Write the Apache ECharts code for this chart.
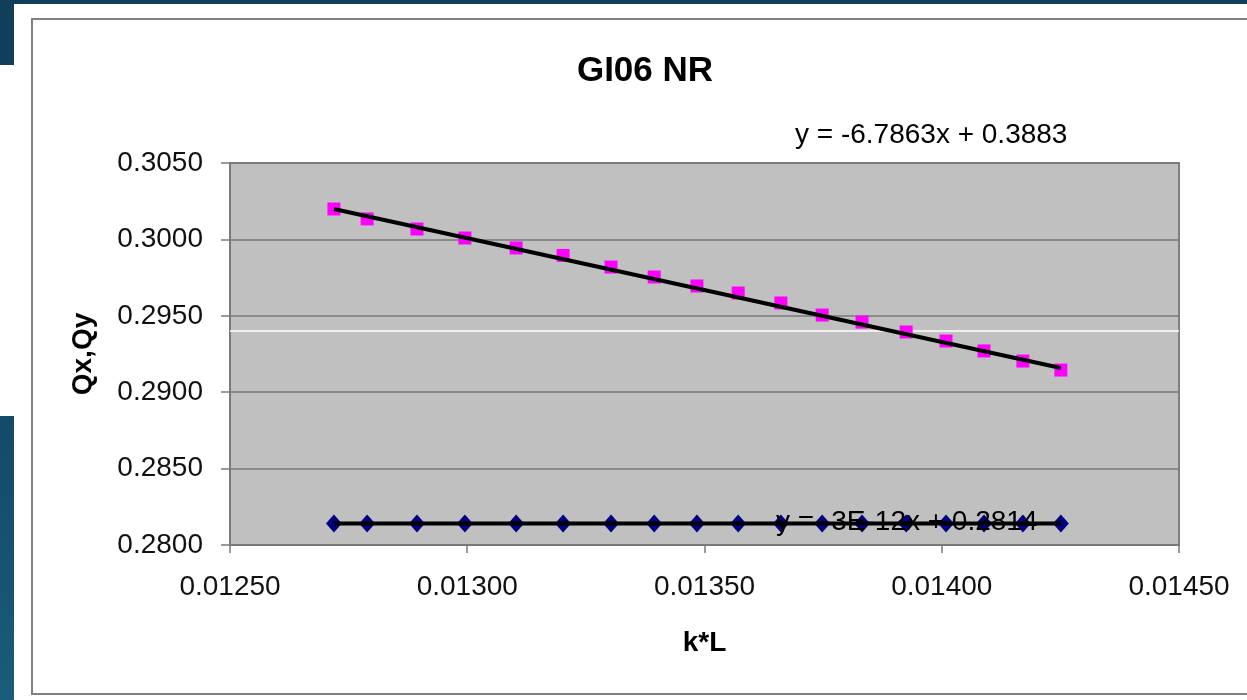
<!DOCTYPE html>
<html><head><meta charset="utf-8">
<script src="https://cdn.jsdelivr.net/npm/echarts@6/dist/echarts.min.js"></script>
<style>html,body{margin:0;padding:0;background:#fff;overflow:hidden}#c{width:1247px;height:700px}</style>
</head><body><div id="c"></div>
<script>
// k*L values (x)
const kL = [0.012719, 0.012789, 0.012894, 0.012995, 0.013103, 0.013202, 0.013303, 0.013394, 0.013484,
            0.013571, 0.013661, 0.013748, 0.013832, 0.013925, 0.014009, 0.014089, 0.014171, 0.014251];
// Qx values (magenta squares)
const qx = [0.30199, 0.30134, 0.30068, 0.30009, 0.29944, 0.29895, 0.29819, 0.29754, 0.29695,
            0.29649, 0.29584, 0.29505, 0.29459, 0.29394, 0.29335, 0.29270, 0.29204, 0.29145];
// Qy values (navy diamonds)
const qy = [0.2814, 0.2814, 0.2814, 0.2814, 0.2814, 0.2814, 0.2814, 0.2814, 0.2814,
            0.2814, 0.2814, 0.2814, 0.2814, 0.2814, 0.2814, 0.2814, 0.2814, 0.2814];
// trendline coefficients [slope, intercept]
const fitQx = [-6.7863, 0.3883];
const fitQy = [3e-12, 0.2814];
const eqQx = 'y = -6.7863x + 0.3883';
const eqQy = 'y = -3E-12x + 0.2814';
const titleText = 'GI06 NR';
const xName = 'k*L';
const yName = 'Qx,Qy';
const xTicks = [0.0125, 0.0130, 0.0135, 0.0140, 0.0145];
const yTicks = [0.2800, 0.2850, 0.2900, 0.2950, 0.3000, 0.3050];
const whiteLineY = [0.2940];

const FONT = 'Liberation Sans';
const pts = (xs, ys) => xs.map((x, i) => [x, ys[i]]);
const trend = (xs, f) => [[xs[0], f[0] * xs[0] + f[1]], [xs[xs.length - 1], f[0] * xs[xs.length - 1] + f[1]]];

const chart = echarts.init(document.getElementById('c'), null, {renderer: 'canvas'});
chart.setOption({
  animation: false,
  backgroundColor: '#ffffff',
  title: {
    text: titleText, left: 640, top: 49, textAlign: 'center',
    textStyle: {fontFamily: FONT, fontWeight: 'bold', fontSize: 35, color: '#000'}
  },
  grid: {
    left: 230, top: 163, right: 68, bottom: 155, show: true,
    backgroundColor: '#c0c0c0', borderColor: '#808080', borderWidth: 2
  },
  xAxis: {
    type: 'value', min: xTicks[0], max: xTicks[xTicks.length - 1], interval: 0.0005,
    name: xName, nameLocation: 'middle', nameGap: 84,
    nameTextStyle: {fontFamily: FONT, fontWeight: 'bold', fontSize: 28, color: '#000'},
    axisLine: {show: true, lineStyle: {color: '#7a7a7a', width: 2}},
    axisTick: {show: true, length: 8, lineStyle: {color: '#7a7a7a', width: 1.5}},
    axisLabel: {margin: 28, fontFamily: FONT, fontSize: 28, color: '#111',
                formatter: v => v.toFixed(5)},
    splitLine: {show: false}
  },
  yAxis: {
    type: 'value', min: yTicks[0], max: yTicks[yTicks.length - 1], interval: 0.005,
    name: yName, nameLocation: 'middle', nameGap: 133, nameRotate: 90,
    nameTextStyle: {fontFamily: FONT, fontWeight: 'bold', fontSize: 28, color: '#000'},
    axisLine: {show: true, lineStyle: {color: '#7a7a7a', width: 2}},
    axisTick: {show: true, length: 9, lineStyle: {color: '#7a7a7a', width: 1.5}},
    axisLabel: {margin: 27, fontFamily: FONT, fontSize: 28, color: '#111',
                formatter: v => v.toFixed(4)},
    splitLine: {show: true, lineStyle: {color: '#7a7a7a', width: 1.5}}
  },
  graphic: [
    {type: 'rect', z: -10, shape: {x: 0, y: 0, width: 1247, height: 4}, style: {fill: '#113f5a'}},
    {type: 'rect', z: -10, shape: {x: 0, y: 0, width: 14, height: 65}, style: {fill: '#113f5a'}},
    {type: 'rect', z: -10, shape: {x: 0, y: 416, width: 14, height: 284},
     style: {fill: new echarts.graphic.LinearGradient(0, 0, 0, 1, [{offset: 0, color: '#144a68'}, {offset: 1, color: '#1a5c7b'}])}},
    {type: 'rect', z: -5, shape: {x: 32, y: 19, width: 1240, height: 675},
     style: {fill: null, stroke: '#808080', lineWidth: 2}},
    {type: 'text', z: 100, x: 795, y: 135,
     style: {text: eqQx, font: '28px "Liberation Sans"', fill: '#000', textVerticalAlign: 'middle'}},
    {type: 'text', z: 100, x: 776, y: 522,
     style: {text: eqQy, font: '28px "Liberation Sans"', fill: '#000', textVerticalAlign: 'middle'}}
  ],
  series: [
    {
      name: 'Qx', type: 'scatter', data: pts(kL, qx), symbol: 'rect', symbolSize: 13, z: 2,
      itemStyle: {color: '#ff00ff', opacity: 1},
      markLine: {silent: true, symbol: 'none', label: {show: false}, z: 1, precision: 6,
                 lineStyle: {color: '#ffffff', width: 1.5, type: 'solid'},
                 data: whiteLineY.map(v => ({yAxis: v}))}
    },
    {
      name: 'Qy', type: 'scatter', data: pts(kL, qy), symbol: 'diamond', symbolSize: [16, 18], z: 2,
      itemStyle: {color: '#000080', opacity: 1}
    },
    {
      name: 'trendQx', type: 'line', data: trend(kL, fitQx), showSymbol: false, symbol: 'none', z: 3,
      lineStyle: {color: '#000', width: 4}
    },
    {
      name: 'trendQy', type: 'line', data: trend(kL, fitQy), showSymbol: false, symbol: 'none', z: 3,
      lineStyle: {color: '#000', width: 4}
    }
  ]
});
</script></body></html>
